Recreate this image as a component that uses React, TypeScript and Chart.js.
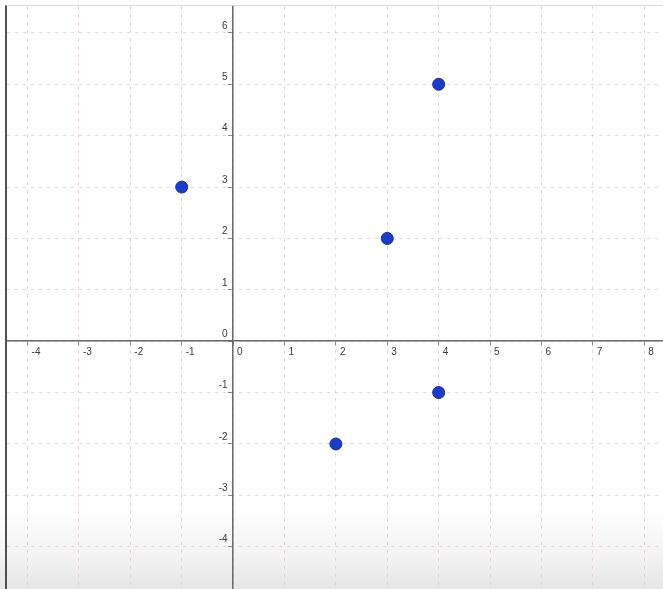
import React, { useEffect, useRef } from "react";
import { Chart, registerables } from "chart.js";

Chart.register(...registerables);

// Plotted points
const pointX = [-1, 3, 4, 4, 2];
const pointY = [3, 2, 5, -1, -2];

// Tick labels
const xTicks = [-4, -3, -2, -1, 0, 1, 2, 3, 4, 5, 6, 7, 8];
const yTicks = [-4, -3, -2, -1, 0, 1, 2, 3, 4, 5, 6];

// Visible window
const xMin = -4.4;
const xMax = 8.365;
const yMin = -4.823;
const yMax = 6.524;

const GRID = "rgba(210,185,198,0.6)";
const AXIS = "#6a6a6a";
const LABEL = "#3a3a3a";
const FONT = { family: "'Liberation Sans', Arial, sans-serif", size: 10 };

export default function App() {
  const ref = useRef<HTMLCanvasElement | null>(null);

  useEffect(() => {
    if (!ref.current) return;
    const data = pointX.map((x, i) => ({ x, y: pointY[i] }));
    const chart = new Chart(ref.current, {
      type: "scatter",
      data: {
        datasets: [
          {
            data,
            pointRadius: 6,
            pointHoverRadius: 6,
            backgroundColor: "#1d3cc6",
            borderColor: "#142c96",
            borderWidth: 1,
            clip: false as any,
          },
        ],
      },
      options: {
        animation: false,
        responsive: true,
        maintainAspectRatio: false,
        layout: { padding: 0, autoPadding: false },
        plugins: { legend: { display: false }, tooltip: { enabled: false } },
        events: [],
        scales: {
          x: {
            type: "linear",
            min: xMin,
            max: xMax,
            position: { y: 0 } as any,
            afterBuildTicks: (s: any) => {
              s.ticks = xTicks.map((v) => ({ value: v }));
            },
            afterFit: (s: any) => {
              s.height = 0;
              s.paddingLeft = 0;
              s.paddingRight = 0;
              s.paddingTop = 0;
              s.paddingBottom = 0;
            },
            ticks: {
              align: "start",
              labelOffset: 4,
              padding: 1,
              color: LABEL,
              font: FONT,
              autoSkip: false,
              maxRotation: 0,
              callback: (v: any) => String(v),
            },
            grid: {
              color: GRID,
              lineWidth: 1,
              drawTicks: true,
              tickLength: 4,
              tickColor: "#888",
              tickWidth: 1,
              tickBorderDash: [],
            } as any,
            border: { display: true, color: AXIS, width: 1.5, dash: [3, 5] },
          },
          y: {
            type: "linear",
            min: yMin,
            max: yMax,
            position: { x: 0 } as any,
            afterBuildTicks: (s: any) => {
              s.ticks = yTicks.map((v) => ({ value: v }));
            },
            afterFit: (s: any) => {
              s.width = 0;
              s.paddingLeft = 0;
              s.paddingRight = 0;
              s.paddingTop = 0;
              s.paddingBottom = 0;
            },
            ticks: {
              align: "end",
              labelOffset: -2,
              padding: 1,
              color: LABEL,
              font: FONT,
              autoSkip: false,
              callback: (v: any) => String(v) + "  ",
            },
            grid: {
              color: GRID,
              lineWidth: 1,
              drawTicks: true,
              tickLength: 4,
              tickColor: "#888",
              tickWidth: 1,
              tickBorderDash: [],
            } as any,
            border: { display: true, color: AXIS, width: 1.5, dash: [3, 5] },
          },
        },
      } as any,
    });
    return () => chart.destroy();
  }, []);

  return (
    <div
      style={{
        position: "fixed",
        left: 0,
        top: 0,
        width: 663,
        height: 589,
        background: "linear-gradient(to bottom, #ffffff 0%, #ffffff 86%, #f3f3f3 94%, #e6e6e6 100%)",
        overflow: "hidden",
      }}
    >
      <div
        style={{
          position: "absolute",
          left: 5,
          top: 5,
          width: 658,
          height: 584,
          boxSizing: "border-box",
          borderLeft: "2px solid #505050",
          borderTop: "1px solid #dcdcdc",
        }}
      >
        <div style={{ position: "relative", width: 656, height: 583 }}>
          <canvas ref={ref} />
        </div>
      </div>
    </div>
  );
}
